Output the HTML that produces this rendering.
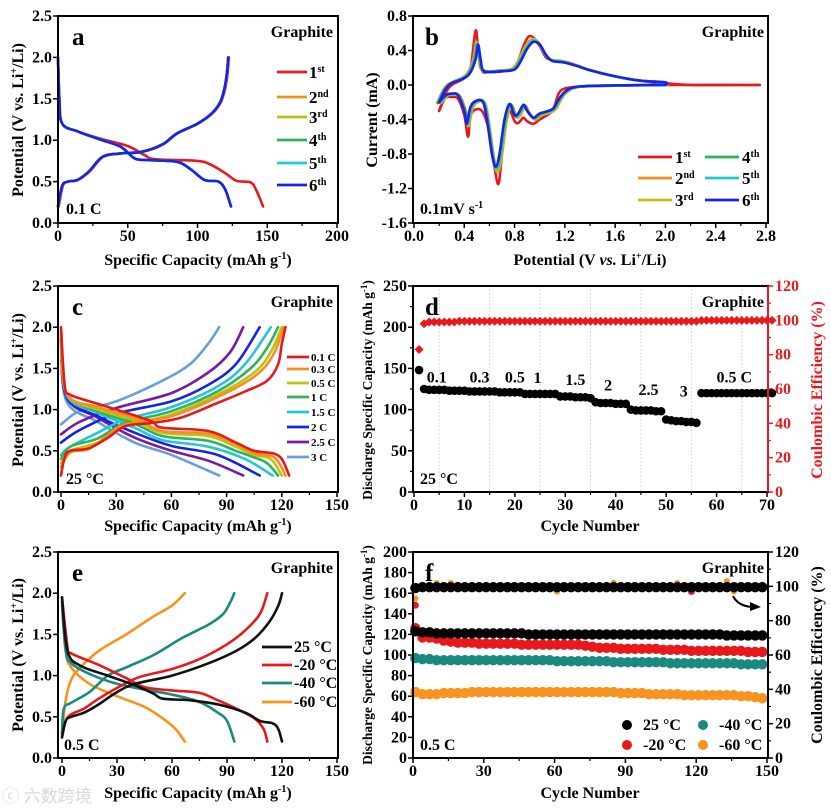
<!DOCTYPE html>
<html><head><meta charset="utf-8">
<style>
html,body{margin:0;padding:0;background:#fff;}
svg{display:block;font-family:"Liberation Serif","Noto Serif CJK SC",serif;font-weight:bold;}
</style></head>
<body>
<svg id="fig" width="831" height="809" viewBox="0 0 831 809">
<text x="2" y="802" font-family="Liberation Sans, Noto Sans CJK SC, sans-serif" font-size="17" fill="#d8d8d8" font-weight="normal">ⓒ 六数跨境</text>
</svg>
<script>
// ===== Panel a data =====
const aLegend=['1<tspan font-size="10" dy="-6">st</tspan>','2<tspan font-size="10" dy="-6">nd</tspan>','3<tspan font-size="10" dy="-6">rd</tspan>','4<tspan font-size="10" dy="-6">th</tspan>','5<tspan font-size="10" dy="-6">th</tspan>','6<tspan font-size="10" dy="-6">th</tspan>'];
const cycColors=['#e8191c','#f5901e','#bcc112','#2db35a','#21c7d5','#1723e6'];
const aDis1=[[0,2.0],[1,1.5],[3,1.2],[12,1.12],[30,1.02],[50,0.93],[62,0.82],[70,0.77],[100,0.75],[110,0.7],[120,0.6],[128,0.51],[138,0.49],[142,0.4],[147,0.2]];
const aDisN=[[0,2.0],[1,1.5],[3,1.2],[15,1.1],[30,1.01],[45,0.92],[55,0.78],[65,0.76],[85,0.74],[95,0.65],[105,0.52],[115,0.5],[120,0.4],[124,0.2]];
const aChg=[[0,0.2],[3,0.45],[7,0.5],[14,0.52],[22,0.62],[32,0.8],[45,0.84],[60,0.86],[75,0.95],[85,1.08],[100,1.2],[110,1.32],[116,1.45],[119,1.6],[121,1.8],[122,2.0]];
const aXTicks=[0,50,100,150,200], aYTicks=[0,0.5,1.0,1.5,2.0,2.5];
// ===== Panel b data =====
const bV1=[0.2,0.25,0.3,0.4,0.45,0.49,0.51,0.54,0.6,0.75,0.82,0.87,0.91,0.95,1.0,1.05,1.1,1.2,1.3,1.4,1.6,1.8,2.0,2.2,2.5,2.75];
const bI1=[-0.3,-0.1,0.0,0.08,0.2,0.63,0.4,0.17,0.15,0.17,0.25,0.45,0.56,0.55,0.45,0.32,0.29,0.26,0.22,0.17,0.1,0.05,0.02,0.0,0.0,0.0];
const bV1c=[2.75,2.0,1.5,1.3,1.2,1.15,1.1,1.0,0.95,0.9,0.87,0.83,0.8,0.76,0.72,0.69,0.67,0.64,0.6,0.55,0.5,0.45,0.43,0.4,0.35,0.3,0.25,0.2];
const bI1c=[0.0,0.0,-0.01,-0.02,-0.04,-0.1,-0.3,-0.4,-0.45,-0.42,-0.38,-0.44,-0.42,-0.3,-0.5,-0.95,-1.15,-0.95,-0.55,-0.32,-0.28,-0.35,-0.6,-0.35,-0.16,-0.14,-0.15,-0.3];
const bV6=[0.2,0.25,0.3,0.4,0.45,0.49,0.51,0.53,0.56,0.7,0.8,0.85,0.9,0.95,1.0,1.05,1.1,1.2,1.3,1.4,1.6,1.8,2.0,2.0];
const bI6=[-0.2,-0.05,0.02,0.08,0.15,0.3,0.47,0.3,0.16,0.16,0.18,0.28,0.42,0.5,0.47,0.35,0.28,0.26,0.22,0.17,0.1,0.05,0.03,0.0];
const bV6c=[2.0,1.6,1.3,1.2,1.15,1.1,1.0,0.95,0.9,0.87,0.83,0.8,0.76,0.72,0.68,0.65,0.62,0.58,0.55,0.5,0.45,0.42,0.4,0.35,0.3,0.25,0.2];
const bI6c=[0.0,-0.005,-0.02,-0.08,-0.17,-0.28,-0.33,-0.38,-0.3,-0.23,-0.33,-0.35,-0.22,-0.4,-0.8,-0.95,-0.8,-0.4,-0.2,-0.18,-0.25,-0.45,-0.3,-0.12,-0.1,-0.12,-0.2];
const bXTicks=[0,0.4,0.8,1.2,1.6,2.0,2.4,2.8], bYTicks=[-1.6,-1.2,-0.8,-0.4,0.0,0.4,0.8];
// ===== Panel c data =====
const cRates=['0.1 C','0.3 C','0.5 C','1 C','1.5 C','2 C','2.5 C','3 C'];
const cColors=['#e8191c','#f5901e','#bcc112','#2db35a','#21c7d5','#1723e6','#7b1a9c','#6a9fd6'];
const cDis=[
[[0,2.0],[2,1.3],[5,1.18],[20,1.07],[40,0.93],[50,0.85],[55,0.78],[80,0.74],[95,0.6],[105,0.5],[115,0.47],[120,0.4],[124,0.2]],
[[0,1.95],[3,1.2],[20,1.03],[40,0.9],[55,0.74],[80,0.71],[95,0.58],[105,0.47],[116,0.42],[122,0.2]],
[[0,1.95],[3,1.2],[20,1.0],[40,0.87],[55,0.72],[80,0.68],[95,0.55],[105,0.45],[114,0.4],[120,0.2]],
[[0,1.9],[3,1.2],[20,0.98],[40,0.83],[55,0.68],[80,0.62],[95,0.5],[105,0.42],[112,0.35],[118,0.2]],
[[0,1.9],[3,1.18],[20,0.96],[40,0.78],[55,0.63],[80,0.55],[100,0.4],[115,0.2]],
[[0,1.85],[3,1.15],[20,0.92],[40,0.72],[60,0.56],[85,0.45],[108,0.2]],
[[0,1.85],[3,1.15],[20,0.9],[40,0.66],[60,0.5],[80,0.38],[99,0.2]],
[[0,1.8],[3,1.1],[20,0.85],[40,0.6],[60,0.45],[86,0.2]]];
const cChg=[
[[0,0.2],[2,0.42],[5,0.5],[15,0.53],[25,0.65],[35,0.8],[50,0.84],[65,0.9],[85,1.08],[100,1.22],[112,1.35],[118,1.55],[120,1.8],[122,2.0]],
[[0,0.3],[5,0.48],[15,0.52],[25,0.68],[35,0.82],[60,0.92],[85,1.15],[105,1.4],[115,1.65],[121,2.0]],
[[0,0.35],[5,0.5],[20,0.6],[35,0.8],[60,0.94],[85,1.18],[105,1.45],[114,1.7],[120,2.0]],
[[0,0.4],[5,0.55],[20,0.65],[35,0.84],[60,0.98],[85,1.22],[103,1.5],[112,1.75],[118,2.0]],
[[0,0.45],[5,0.55],[20,0.72],[35,0.88],[60,1.03],[85,1.28],[100,1.55],[114,2.0]],
[[0,0.6],[10,0.75],[30,0.95],[60,1.1],[80,1.3],[95,1.55],[108,2.0]],
[[0,0.7],[10,0.85],[30,1.02],[60,1.2],[80,1.45],[92,1.7],[99,2.0]],
[[0,0.82],[10,0.98],[30,1.1],[55,1.35],[70,1.55],[80,1.8],[86,2.0]]];
const cXTicks=[0,30,60,90,120,150];
// ===== Panel d data =====
const dCap=[148,125,124,124,124,124,123,123,123,123,122,122,122,122,122,122,121,121,121,121,121,119,119,119,119,119,119,119,116,116,116,115,115,115,114,109,108,108,108,107,107,107,100,99,99,99,99,98,98,88,87,86,86,85,85,84,120,120,120,120,120,120,120,120,120,120,120,120,120,120,120];
const dCE=[83,98,99,99,99,99,99,99,99.5,99.5,99.5,99.5,99.5,99.5,99.5,99.5,99.5,99.5,99.5,99.5,99.5,99.5,99.5,99.5,99.5,99.5,99.5,99.5,99.5,99.5,99.5,99.5,99.5,99.5,99.5,99.5,99.5,99.5,99.5,99.5,99.5,99.5,99.5,99.5,99.5,99.5,99.5,99.5,99.5,99.5,99.5,99.5,99.5,99.5,99.5,99.5,100,100,100,100,100,100,100,100,100,100,100,100,100,100,100];
const dXTicks=[0,10,20,30,40,50,60,70], dYTicks=[0,50,100,150,200,250], dRTicks=[0,20,40,60,80,100,120];
const dRateLabels=['0.1','0.3','0.5','1','1.5','2','2.5','3','0.5 C'];
const dRateCycle=[4.5,13,20,24.5,32,38.5,46.5,53.5,63.5];
const dRateCap=[133,133,133,132,130,123,118,116,133];
// ===== Panel e data =====
const eTemps=['25 °C','-20 °C','-40 °C','-60 °C'];
const eColors=['#111111','#e8191c','#1a8a80','#f7931e'];
const eDis=[
[[0,1.95],[3,1.3],[10,1.12],[25,1.0],[40,0.88],[50,0.78],[55,0.72],[70,0.7],[85,0.65],[100,0.55],[108,0.45],[115,0.42],[118,0.35],[120,0.2]],
[[0,1.95],[3,1.35],[5,1.27],[20,1.13],[35,0.97],[45,0.86],[60,0.82],[75,0.79],[85,0.7],[95,0.6],[105,0.48],[110,0.35],[112,0.2]],
[[0,1.9],[2,1.3],[5,1.15],[15,1.02],[30,0.9],[45,0.83],[60,0.77],[75,0.68],[85,0.55],[90,0.45],[94,0.2]],
[[0,1.85],[2,1.3],[5,1.1],[15,0.9],[30,0.75],[45,0.62],[55,0.48],[62,0.35],[67,0.2]]];
const eChg=[
[[0,0.25],[2,0.45],[5,0.5],[12,0.55],[20,0.65],[30,0.8],[40,0.9],[60,1.0],[80,1.15],[95,1.3],[105,1.45],[113,1.65],[118,1.85],[120,2.0]],
[[0,0.25],[2,0.45],[5,0.53],[12,0.6],[20,0.72],[30,0.85],[42,0.98],[60,1.08],[75,1.2],[90,1.38],[100,1.55],[108,1.75],[112,2.0]],
[[0,0.3],[1,0.6],[5,0.67],[15,0.8],[25,1.0],[35,1.1],[50,1.25],[65,1.45],[80,1.62],[88,1.75],[92,1.9],[94,2.0]],
[[0,0.3],[2,0.7],[5,0.95],[10,1.1],[20,1.3],[35,1.5],[50,1.72],[60,1.85],[67,2.0]]];
// ===== Panel f data =====
const fCycles=[1,4,7,10,13,16,19,22,25,28,31,34,37,40,43,46,49,52,55,58,61,64,67,70,73,76,79,82,85,88,91,94,97,100,103,106,109,112,115,118,121,124,127,130,133,136,139,142,145,148];
const fCap25=[123,122,122,121,121,121,121,121,121,121,121,121,121,121,121,121,120,120,120,120,120,120,120,120,120,120,120,120,120,120,120,120,120,120,120,120,120,120,120,120,120,120,120,120,119,119,119,119,119,119];
const fCap20=[126,117,117,116,114,113,112,112,112,111,111,111,111,111,111,110,110,110,110,110,110,110,110,110,109,108,107,107,107,106,106,106,106,106,106,105,105,105,105,104,104,104,104,104,104,104,104,103,103,103];
const fCap40=[97,96,96,95,95,95,95,95,95,95,95,95,95,95,95,95,95,95,95,95,94,94,94,94,94,94,94,94,93,93,93,93,93,93,93,93,92,92,92,92,92,92,92,92,92,92,91,91,91,91];
const fCap60=[64,62,62,62,63,63,63,63,64,64,64,64,64,64,64,64,64,64,64,64,64,64,64,64,64,64,64,64,64,63,63,63,63,62,62,62,62,62,61,61,61,61,61,61,61,61,60,60,59,58];
const fCE25=[99,99.5,99.5,99.5,99.5,99.5,99.5,99.5,99.5,99.5,99.5,99.5,99.5,99.5,99.5,99.5,99.5,99.5,99.5,99.5,99.5,99.5,99.5,99.5,99.5,99.5,99.5,99.5,99.5,99.5,99.5,99.5,99.5,99.5,99.5,99.5,99.5,99.5,99.5,99.5,99.5,99.5,99.5,99.5,99.5,99.5,99.5,99.5,99.5,99.5];
const fCE20=[89,99,100,100,100,100,100,100,100,100,100,100,100,100,100,100,100,100,100,100,100,100,100,100,100,100,100,100,100,100,100,100,100,100,100,100,100,100,100,97,100,100,100,100,100,100,100,100,100,100];
const fCE60=[93,101,101,102,100,102,101,100,100,100,101,100,100,100,100,100,100,100,100,100,97,100,100,100,100,100,100,101,102,100,100,100,100,100,100,100,100,102,100,100,100,100,100,100,103,97,100,100,100,101];
const fXTicks=[0,30,60,90,120,150], fYTicks=[0,20,40,60,80,100,120,140,160,180,200], fRTicks=[0,20,40,60,80,100,120];

// ===== helpers =====
const NS='http://www.w3.org/2000/svg';
const svg=document.getElementById('fig');
const TF=16;
function mk(tag,attrs,parent){const e=document.createElementNS(NS,tag);for(const k in attrs)e.setAttribute(k,attrs[k]);(parent||svg).appendChild(e);return e;}
function txt(x,y,s,attrs,parent){const e=mk('text',Object.assign({x:x,y:y},attrs||{}),parent);e.innerHTML=s;return e;}
function lin(d0,d1,p0,p1){return v=>p0+(v-d0)*(p1-p0)/(d1-d0);}
function smooth(pts){let d='M'+pts[0][0].toFixed(1)+','+pts[0][1].toFixed(1);for(let i=0;i<pts.length-1;i++){const p0=pts[i-1]||pts[i],p1=pts[i],p2=pts[i+1],p3=pts[i+2]||p2;const c1=[p1[0]+(p2[0]-p0[0])/6,p1[1]+(p2[1]-p0[1])/6],c2=[p2[0]-(p3[0]-p1[0])/6,p2[1]-(p3[1]-p1[1])/6];d+='C'+c1[0].toFixed(1)+','+c1[1].toFixed(1)+' '+c2[0].toFixed(1)+','+c2[1].toFixed(1)+' '+p2[0].toFixed(1)+','+p2[1].toFixed(1);}return d;}
function curve(g,pts,xs,ys,color,w,name){const p=mk('path',{d:smooth(pts.map(q=>[xs(q[0]),ys(q[1])])),fill:'none',stroke:color,'stroke-width':w,'stroke-linejoin':'round','stroke-linecap':'round'},g);


return p;}
function fmt(v,dec){return v.toFixed(dec);}
function panel(name,c){
 const g=mk('g',{});
 
 
 const xs=lin(c.xd[0],c.xd[1],c.xp[0],c.xp[1]), ys=lin(c.yd[0],c.yd[1],c.B,c.T);
 c.xt.forEach((v,i)=>{const x=xs(v);
  const t=mk('line',{x1:x,x2:x,y1:c.B,y2:c.B+5,stroke:'#000','stroke-width':1.5},g);
  
  
  const l=txt(x,c.B+18,fmt(v,c.xdec),{'text-anchor':'middle','font-size':TF},g);
  
  
  if(i<c.xt.length-1){const xm=xs((v+c.xt[i+1])/2);const m=mk('line',{x1:xm,x2:xm,y1:c.B,y2:c.B+3,stroke:'#000','stroke-width':1.2},g);
   
   }
 });
 c.yt.forEach((v,i)=>{const y=ys(v);
  const t=mk('line',{x1:c.L-5,x2:c.L,y1:y,y2:y,stroke:'#000','stroke-width':1.5},g);
  
  
  const l=txt(c.L-6,y+5,fmt(v,c.ydec),{'text-anchor':'end','font-size':TF},g);
  
  
  if(c.yminor&&i<c.yt.length-1){const ym=ys((v+c.yt[i+1])/2);const m=mk('line',{x1:c.L-3,x2:c.L,y1:ym,y2:ym,stroke:'#000','stroke-width':1.2},g);
   
   }
 });
 return {g,xs,ys};
}
function frame(g,c,rightColor){
 const r=mk('rect',{x:c.L,y:c.T,width:c.R-c.L,height:c.B-c.T,fill:'none',stroke:'#000','stroke-width':2},g);
 
 
 if(rightColor){const l=mk('line',{x1:c.R,x2:c.R,y1:c.T,y2:c.B,stroke:rightColor,'stroke-width':2},g);
  
  }
}
function label(g,x,y,s,attrs,name){const t=txt(x,y,s,attrs,g);
 
 return t;}
function ytitle(g,x,y,s,size,color,name){const t=txt(0,0,s,{'text-anchor':'middle','font-size':size,fill:color||'#000',transform:'translate('+x+','+y+') rotate(-90)'},g);
 
 return t;}
function rightAxis(g,c,ticks,color,yr){
 const ys=lin(yr[0],yr[1],c.B,c.T);
 ticks.forEach((v,i)=>{const y=ys(v);
  const t=mk('line',{x1:c.R,x2:c.R+5,y1:y,y2:y,stroke:color,'stroke-width':1.5},g);
  
  
  const l=txt(c.R+7,y+5,String(v),{'font-size':TF,fill:color},g);
  
  
  if(i<ticks.length-1){const ym=ys(v+(ticks[1]-ticks[0])/2);const m=mk('line',{x1:c.R,x2:c.R+3,y1:ym,y2:ym,stroke:color,'stroke-width':1.2},g);
   
   }
 });
 return ys;
}
const capTitle='Specific Capacity (mAh g<tspan font-size="10" dy="-6">-1</tspan><tspan dy="6">)</tspan>';
const potTitle='Potential (V vs. Li<tspan font-size="10" dy="-6">+</tspan><tspan dy="6">/Li)</tspan>';

// ===== Panel a =====
(function(){
 const c={L:58,R:338,T:16,B:223,xd:[0,200],xp:[58,337],yd:[0,2.5],xt:aXTicks,yt:aYTicks,xdec:0,ydec:1};
 const {g,xs,ys}=panel('panel-a',c);
 curve(g,aDis1,xs,ys,cycColors[0],2.6,'discharge-1st');
 curve(g,aChg.map(p=>[p[0]+0.5,p[1]]),xs,ys,cycColors[0],2.6,'charge-1st');
 for(let k=1;k<6;k++){curve(g,aDisN,xs,ys,cycColors[k],2.6,'discharge-cycle-'+(k+1));curve(g,aChg,xs,ys,cycColors[k],2.6,'charge-cycle-'+(k+1));}
 frame(g,c);
 label(g,72,45,'a',{'font-size':25},'panel-letter');
 label(g,333,37,'Graphite',{'text-anchor':'end','font-size':16},'material-label');
 label(g,66,214,'0.1 C',{'font-size':16},'rate-label');
 const ly=[72,97,117,140,163,185];
 aLegend.forEach((s,i)=>{const l=mk('line',{x1:277,x2:307,y1:ly[i],y2:ly[i],stroke:cycColors[i],'stroke-width':2.8},g);
  
  
  label(g,309,ly[i]+6,s,{'font-size':17},'legend-entry');});
 label(g,198,265,capTitle,{'text-anchor':'middle','font-size':16},'x-axis-title');
 ytitle(g,23,120,potTitle,16,'#000','y-axis-title');
})();

// ===== Panel b =====
(function(){
 const c={L:413,R:768,T:16,B:223,xd:[0,2.8],xp:[414,766],yd:[-1.6,0.8],xt:bXTicks,yt:bYTicks,xdec:1,ydec:1};
 const {g,xs,ys}=panel('panel-b',c);
 const zip=(a,b)=>a.map((v,i)=>[v,b[i]]);
 curve(g,zip(bV1,bI1),xs,ys,cycColors[0],2.6,'cv-1st-anodic');
 curve(g,zip(bV1c,bI1c),xs,ys,cycColors[0],2.6,'cv-1st-cathodic');
 for(let k=1;k<5;k++){const s=(k<3)?1.06:1.02;
  curve(g,zip(bV6,bI6).map(p=>[p[0]-0.02+k*0.004,p[1]*s]),xs,ys,cycColors[k],2.6,'cv-cycle-'+(k+1)+'-anodic');
  curve(g,zip(bV6c,bI6c).map(p=>[p[0]+0.02-k*0.004,p[1]*s]),xs,ys,cycColors[k],2.6,'cv-cycle-'+(k+1)+'-cathodic');}
 curve(g,zip(bV6,bI6),xs,ys,cycColors[5],2.6,'cv-6th-anodic');
 curve(g,zip(bV6c,bI6c),xs,ys,cycColors[5],2.6,'cv-6th-cathodic');
 frame(g,c);
 label(g,425,45,'b',{'font-size':25},'panel-letter');
 label(g,764,37,'Graphite',{'text-anchor':'end','font-size':16},'material-label');
 label(g,420,214,'0.1mV s<tspan font-size="10" dy="-6">-1</tspan>',{'font-size':16},'scan-rate-label');
 const pos=[[638,157],[638,178],[638,200],[705,157],[705,178],[705,200]];
 aLegend.forEach((s,i)=>{const p=pos[i];const l=mk('line',{x1:p[0],x2:p[0]+34,y1:p[1],y2:p[1],stroke:cycColors[i],'stroke-width':2.8},g);
  
  
  label(g,p[0]+37,p[1]+6,s,{'font-size':17},'legend-entry');});
 label(g,590,265,'Potential (V <tspan font-style="italic">vs.</tspan> Li<tspan font-size="10" dy="-6">+</tspan><tspan dy="6">/Li)</tspan>',{'text-anchor':'middle','font-size':16},'x-axis-title');
 ytitle(g,377,120,'Current (mA)',16,'#000','y-axis-title');
})();

// ===== Panel c =====
(function(){
 const c={L:58,R:338,T:286,B:492,xd:[0,150],xp:[61,337],yd:[0,2.5],xt:cXTicks,yt:aYTicks,xdec:0,ydec:1};
 const {g,xs,ys}=panel('panel-c',c);
 for(let k=7;k>=0;k--){curve(g,cDis[k],xs,ys,cColors[k],2.6,'discharge-'+cRates[k].replace(' ',''));curve(g,cChg[k],xs,ys,cColors[k],2.6,'charge-'+cRates[k].replace(' ',''));}
 frame(g,c);
 label(g,72,315,'c',{'font-size':25},'panel-letter');
 label(g,333,307,'Graphite',{'text-anchor':'end','font-size':16},'material-label');
 label(g,66,484,'25 °C',{'font-size':16},'temperature-label');
 const ly=[357,369,383,397,412,427,442,457];
 cRates.forEach((s,i)=>{const l=mk('line',{x1:287,x2:309,y1:ly[i],y2:ly[i],stroke:cColors[i],'stroke-width':2.8},g);
  
  
  label(g,311,ly[i]+4,s,{'font-size':11},'legend-entry');});
 label(g,198,531,capTitle,{'text-anchor':'middle','font-size':16},'x-axis-title');
 ytitle(g,23,390,potTitle,16,'#000','y-axis-title');
})();

// ===== Panel d =====
(function(){
 const c={L:413,R:768,T:286,B:492,xd:[0,70],xp:[414,767],yd:[0,250],xt:dXTicks,yt:dYTicks,xdec:0,ydec:0,yminor:true};
 const {g,xs,ys}=panel('panel-d',c);
 [5,15,25,35,45,55,65].forEach(v=>{const l=mk('line',{x1:xs(v),x2:xs(v),y1:c.T,y2:c.B,stroke:'#c8c8c8','stroke-width':0.8,'stroke-dasharray':'1.5,2'},g);
  
  });
 const yr=rightAxis(g,c,dRTicks,'#e8191c',[0,120]);
 dCE.forEach((v,i)=>{const x=xs(i+1),y=yr(v);const d=mk('path',{d:`M${x},${y-4.5}L${x+4.5},${y}L${x},${y+4.5}L${x-4.5},${y}Z`,fill:'#e8191c'},g);
  
  });
 dCap.forEach((v,i)=>{const ci=mk('circle',{cx:xs(i+1),cy:ys(v),r:4.3,fill:'#000'},g);
  
  });
 frame(g,c,'#e8191c');
 dRateLabels.forEach((s,i)=>label(g,xs(dRateCycle[i]),ys(dRateCap[i]),s,{'text-anchor':'middle','font-size':16},'rate-label'));
 label(g,425,315,'d',{'font-size':25},'panel-letter');
 label(g,764,307,'Graphite',{'text-anchor':'end','font-size':16},'material-label');
 label(g,420,484,'25 °C',{'font-size':16},'temperature-label');
 label(g,590,531,'Cycle Number',{'text-anchor':'middle','font-size':16},'x-axis-title');
 ytitle(g,372,390,'Discharge Specific Capacity (mAh g<tspan font-size="9" dy="-5">-1</tspan><tspan dy="5">)</tspan>',13.5,'#000','y-axis-title');
 ytitle(g,822,390,'Coulombic Efficiency (%)',16,'#e8191c','right-axis-title');
})();

// ===== Panel e =====
(function(){
 const c={L:58,R:338,T:552,B:758,xd:[0,150],xp:[62,337],yd:[0,2.5],xt:cXTicks,yt:aYTicks,xdec:0,ydec:1};
 const {g,xs,ys}=panel('panel-e',c);
 for(let k=3;k>=0;k--){curve(g,eDis[k],xs,ys,eColors[k],2.6,'discharge-'+eTemps[k]);curve(g,eChg[k],xs,ys,eColors[k],2.6,'charge-'+eTemps[k]);}
 frame(g,c);
 label(g,72,581,'e',{'font-size':25},'panel-letter');
 label(g,333,573,'Graphite',{'text-anchor':'end','font-size':16},'material-label');
 label(g,64,750,'0.5 C',{'font-size':16},'rate-label');
 const ly=[647,665,683,702];
 eTemps.forEach((s,i)=>{const l=mk('line',{x1:262,x2:292,y1:ly[i],y2:ly[i],stroke:eColors[i],'stroke-width':2.8},g);
  
  
  label(g,294,ly[i]+5,s,{'font-size':16},'legend-entry');});
 label(g,198,798,capTitle,{'text-anchor':'middle','font-size':16},'x-axis-title');
 ytitle(g,23,655,potTitle,16,'#000','y-axis-title');
})();

// ===== Panel f =====
(function(){
 const c={L:413,R:768,T:552,B:758,xd:[0,150],xp:[413,767],yd:[0,200],xt:fXTicks,yt:fYTicks,xdec:0,ydec:0};
 const {g,xs,ys}=panel('panel-f',c);
 const yr=rightAxis(g,c,fRTicks,'#000',[0,120]);
 const dots=(arr,scale,color,r,name)=>arr.forEach((v,i)=>{const ci=mk('circle',{cx:xs(fCycles[i]),cy:scale(v),r:r,fill:color},g);
  
  });
 dots(fCE60,yr,'#f7931e',3,'ce-point-minus60');
 dots(fCE20,yr,'#e8191c',3.5,'ce-point-minus20');
 dots(fCE25,yr,'#000',5.2,'ce-point-25');
 dots(fCap60,ys,'#f7931e',5.2,'capacity-point-minus60');
 dots(fCap40,ys,'#1a8a80',5.2,'capacity-point-minus40');
 dots(fCap20,ys,'#e8191c',5.2,'capacity-point-minus20');
 dots(fCap25,ys,'#000',5.2,'capacity-point-25');
 frame(g,c);
 const ar=mk('path',{d:'M733,596 Q738,606 752,607',fill:'none',stroke:'#000','stroke-width':2},g);
 
 
 const ah=mk('path',{d:'M750,602 L761,607 L750,611 Z',fill:'#000'},g);
 
 
 label(g,425,581,'f',{'font-size':25},'panel-letter');
 label(g,764,573,'Graphite',{'text-anchor':'end','font-size':16},'material-label');
 label(g,420,750,'0.5 C',{'font-size':16},'rate-label');
 const lg=[[627,725,'#000',eTemps[0]],[627,745,'#e8191c',eTemps[1]],[703,725,'#1a8a80',eTemps[2]],[703,745,'#f7931e',eTemps[3]]];
 lg.forEach(p=>{const ci=mk('circle',{cx:p[0],cy:p[1],r:5,fill:p[2]},g);
  
  
  label(g,p[0]+16,p[1]+5,p[3],{'font-size':16},'legend-entry');});
 label(g,590,798,'Cycle Number',{'text-anchor':'middle','font-size':16},'x-axis-title');
 ytitle(g,372,655,'Discharge Specific Capacity (mAh g<tspan font-size="9" dy="-5">-1</tspan><tspan dy="5">)</tspan>',13.5,'#000','y-axis-title');
 ytitle(g,822,655,'Coulombic Efficiency (%)',16,'#000','right-axis-title');
})();
</script>
</body></html>
